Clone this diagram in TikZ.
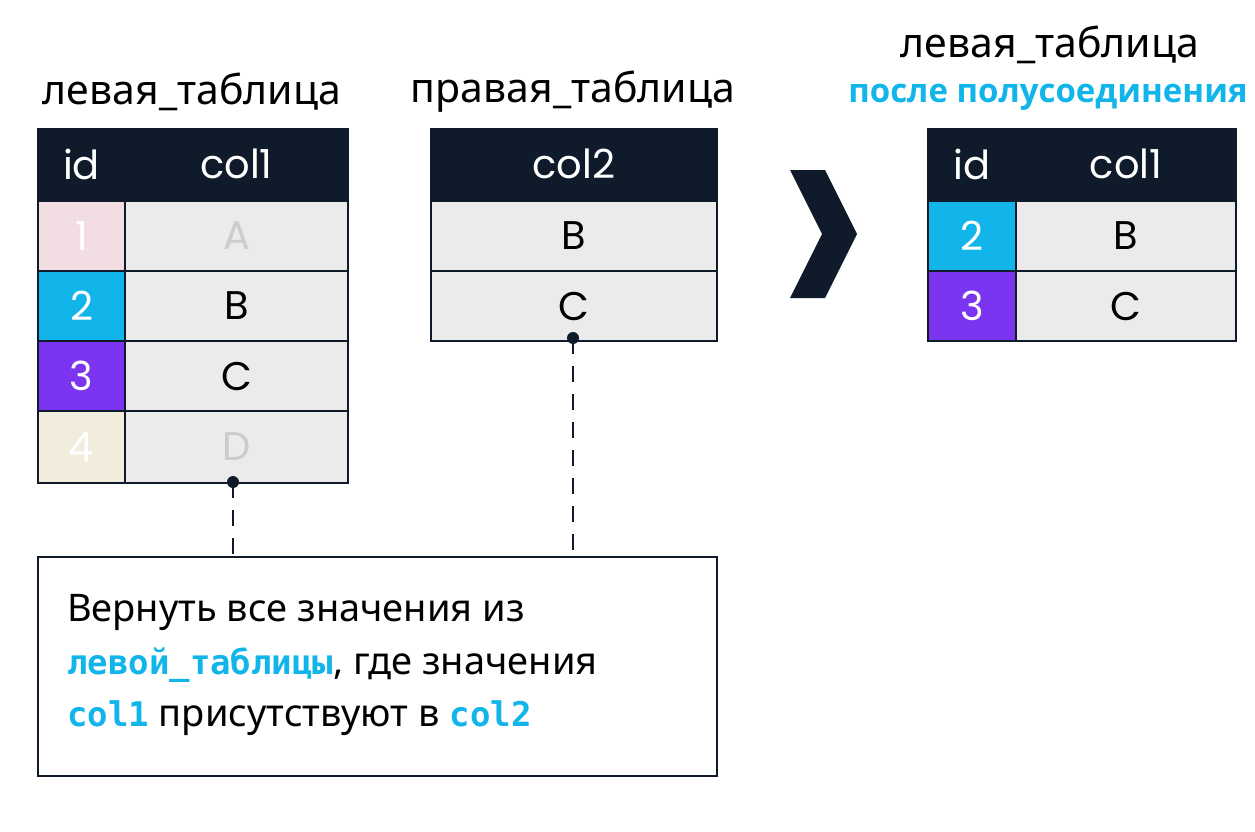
\documentclass[tikz,border=0pt]{standalone}
\usepackage{fontspec}
\setmainfont{Noto Sans}
\newfontfamily\tbl{Poppins}
\newfontfamily\subf{Open Sans}
\newfontfamily\codef{DejaVu Sans Mono}
\definecolor{navy}{HTML}{0F1B2A}
\definecolor{cell}{HTML}{EBEBEB}
\definecolor{cy}{HTML}{12B5EA}
\definecolor{pu}{HTML}{7B35F0}
\definecolor{fpink}{HTML}{F1DDE2}
\definecolor{fbeige}{HTML}{F1ECDC}
\begin{document}
\begin{tikzpicture}[x=1pt,y=-1pt,
 c/.style={draw=navy,line width=2pt,minimum height=70pt,inner sep=0pt,font=\tbl\fontsize{40}{46}\selectfont,anchor=north west},
 hd/.style={c,fill=navy,text=white},
 ttl/.style={font=\fontsize{41}{48}\selectfont,text=black},
 bt/.style={anchor=west,font=\fontsize{38}{44}\selectfont,inner sep=0pt},
 dsh/.style={navy,line width=2pt,dash pattern=on 16pt off 12pt}]
\useasboundingbox (0,0) rectangle (1255,832);
% left table
\node[ttl] (lt) at (192,92) {левая\_таблица};
\node[hd,minimum width=87pt] (lh1) at (37,128) {id};
\node[hd,minimum width=223pt] (lh2) at (124,128) {col1};
\node[c,fill=fpink,text=white,minimum width=87pt] (l11) at (37,200) {1};
\node[c,fill=cell,text=black!20,minimum width=223pt] (l12) at (124,200) {A};
\node[c,fill=cy,text=white,minimum width=87pt] (l21) at (37,270) {2};
\node[c,fill=cell,minimum width=223pt] (l22) at (124,270) {B};
\node[c,fill=pu,text=white,minimum width=87pt] (l31) at (37,340) {3};
\node[c,fill=cell,minimum width=223pt] (l32) at (124,340) {C};
\node[c,fill=fbeige,text=white,minimum width=87pt,minimum height=72pt] (l41) at (37,410) {4};
\node[c,fill=cell,text=black!20,minimum width=223pt,minimum height=72pt] (l42) at (124,410) {D};
% right table
\node[ttl] (rt) at (573,92) {правая\_таблица};
\node[hd,minimum width=286pt] (rh) at (430,128) {col2};
\node[c,fill=cell,minimum width=286pt] (r1) at (430,200) {B};
\node[c,fill=cell,minimum width=286pt] (r2) at (430,270) {C};
% chevron
\fill[navy] (790,170) -- (825,170) -- (857,234) -- (825,298) -- (790,298) -- (822,234) -- cycle;
% result
\node[ttl] (st) at (1050,45) {левая\_таблица};
\node[font=\subf\bfseries\fontsize{33}{40}\selectfont,text=cy] (st2) at (1048,97) {после полусоединения};
\node[hd,minimum width=88pt] (sh1) at (927,128) {id};
\node[hd,minimum width=220pt] (sh2) at (1015,128) {col1};
\node[c,fill=cy,text=white,minimum width=88pt] (s11) at (927,200) {2};
\node[c,fill=cell,minimum width=220pt] (s12) at (1015,200) {B};
\node[c,fill=pu,text=white,minimum width=88pt] (s21) at (927,270) {3};
\node[c,fill=cell,minimum width=220pt] (s22) at (1015,270) {C};
% box
\node[draw=navy,line width=2pt,minimum width=679pt,minimum height=219pt,anchor=north west,inner sep=0pt] (box) at (37,556) {};
\node[bt] (t1) at (67,612) {Вернуть все значения из};
\node[bt] (t2) at (67,665) {\textcolor{cy}{\codef\bfseries\fontsize{34}{40}\selectfont левой\_таблицы}, где значения};
\node[bt] (t3) at (67,718) {\textcolor{cy}{\codef\bfseries\fontsize{34}{40}\selectfont col1} присутствуют в \textcolor{cy}{\codef\bfseries\fontsize{34}{40}\selectfont col2}};
% connectors
\coordinate (d1) at (233,482);
\coordinate (d2) at (573,338);
\fill[navy] (d1) circle (6pt) (d2) circle (6pt);
\draw[dsh] (d1) -- (d1 |- box.north);
\draw[dsh] (d2) -- (d2 |- box.north);
\end{tikzpicture}
\end{document}
